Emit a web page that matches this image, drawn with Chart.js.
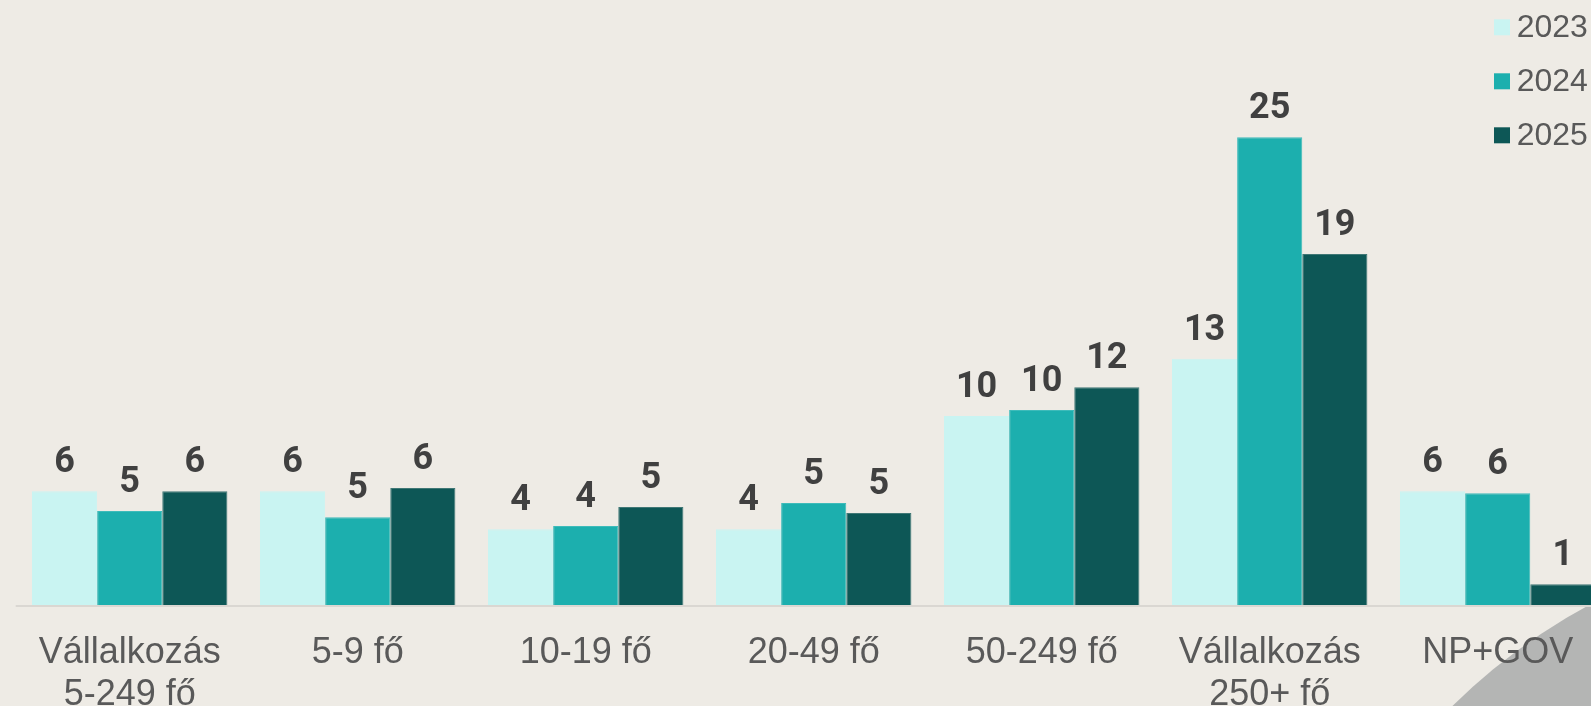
<!DOCTYPE html>
<html>
<head>
<meta charset="utf-8">
<script src="https://cdn.jsdelivr.net/npm/chart.js@4.4.1/dist/chart.umd.min.js"></script>
<style>
  html, body { margin: 0; padding: 0; overflow: hidden; background: #EEEBE5; width: 1591px; height: 706px; }
  #wrap { position: absolute; left: 0; top: 0; width: 1640px; height: 706px; }
</style>
</head>
<body>
<div id="wrap"><canvas id="c"></canvas></div>
<script>
// Categories (company size groups) and yearly series
const categories = [['Vállalkozás', '5-249 fő'], '5-9 fő', '10-19 fő', '20-49 fő', '50-249 fő', ['Vállalkozás', '250+ fő'], 'NP+GOV'];
const years = ['2023', '2024', '2025'];
const values2023 = [6.08, 6.08, 4.05, 4.05, 10.10, 13.16, 6.08];
const values2024 = [5.02, 4.69, 4.22, 5.45, 10.42, 25.0, 5.97];
const values2025 = [6.08, 6.25, 5.24, 4.92, 11.64, 18.76, 1.11];

const fills = ['#C9F4F2', '#1CAFAE', '#0D5756'];
const edges = ['#C9F4F2', '#3DBBBA', '#3F7775'];
const series = [values2023, values2024, values2025];

// Decorative grey disc peeking in at the bottom-right corner
const cornerDisc = {
  id: 'cornerDisc',
  beforeDraw(chart) {
    const ctx = chart.ctx;
    ctx.save();
    ctx.fillStyle = '#B4B5B4';
    ctx.beginPath();
    ctx.arc(1877, 1137, 605, 0, Math.PI * 2);
    ctx.fill();
    ctx.restore();
  }
};

// Rounded value labels above each bar
const valueLabels = {
  id: 'valueLabels',
  afterDatasetsDraw(chart) {
    const ctx = chart.ctx;
    ctx.save();
    ctx.font = 'bold 36px Roboto, "Liberation Sans", sans-serif';
    ctx.fillStyle = '#404040';
    ctx.textAlign = 'center';
    ctx.textBaseline = 'alphabetic';
    chart.data.datasets.forEach((ds, di) => {
      chart.getDatasetMeta(di).data.forEach((bar, i) => {
        ctx.fillText(String(Math.round(ds.data[i])), bar.x, bar.y - 19);
      });
    });
    ctx.restore();
  }
};

// Thin baseline under the bars
const baseLine = {
  id: 'baseLine',
  beforeDatasetsDraw(chart) {
    const { ctx, chartArea } = chart;
    ctx.save();
    ctx.fillStyle = '#DAD7D2';
    ctx.fillRect(chartArea.left, chartArea.bottom, chartArea.right - chartArea.left, 2);
    ctx.restore();
  }
};

// Vertical legend in the top-right corner
const sideLegend = {
  id: 'sideLegend',
  afterDraw(chart) {
    const ctx = chart.ctx;
    ctx.save();
    ctx.font = '32px "Liberation Sans", Arial, sans-serif';
    ctx.textAlign = 'left';
    ctx.textBaseline = 'alphabetic';
    chart.data.datasets.forEach((ds, i) => {
      const baseY = 37.3 + i * 54;
      ctx.fillStyle = ds.backgroundColor;
      ctx.fillRect(1494, baseY - 18, 16, 16);
      ctx.fillStyle = '#595959';
      ctx.fillText(ds.label, 1516.7, baseY);
    });
    ctx.restore();
  }
};

new Chart(document.getElementById('c'), {
  type: 'bar',
  data: {
    labels: categories,
    datasets: years.map((y, i) => ({
      label: y,
      data: series[i],
      backgroundColor: fills[i],
      borderColor: edges[i],
      borderWidth: 1,
      categoryPercentage: 0.857,
      barPercentage: 1.0
    }))
  },
  options: {
    responsive: true,
    maintainAspectRatio: false,
    animation: false,
    layout: { padding: { left: 15.7, right: 28.3, top: 43.7, bottom: 0 } },
    plugins: { legend: { display: false }, tooltip: { enabled: false } },
    scales: {
      x: {
        grid: { display: false, drawTicks: false },
        border: { display: false },
        ticks: {
          color: '#595959',
          padding: 26.5,
          maxRotation: 0,
          autoSkip: false,
          font: { family: '"Liberation Sans", Arial, sans-serif', size: 36, lineHeight: 1.175 }
        },
        afterFit(scale) { scale.height = 101; }
      },
      y: {
        display: false,
        min: 0,
        max: 30
      }
    }
  },
  plugins: [cornerDisc, baseLine, valueLabels, sideLegend]
});
</script>
</body>
</html>
